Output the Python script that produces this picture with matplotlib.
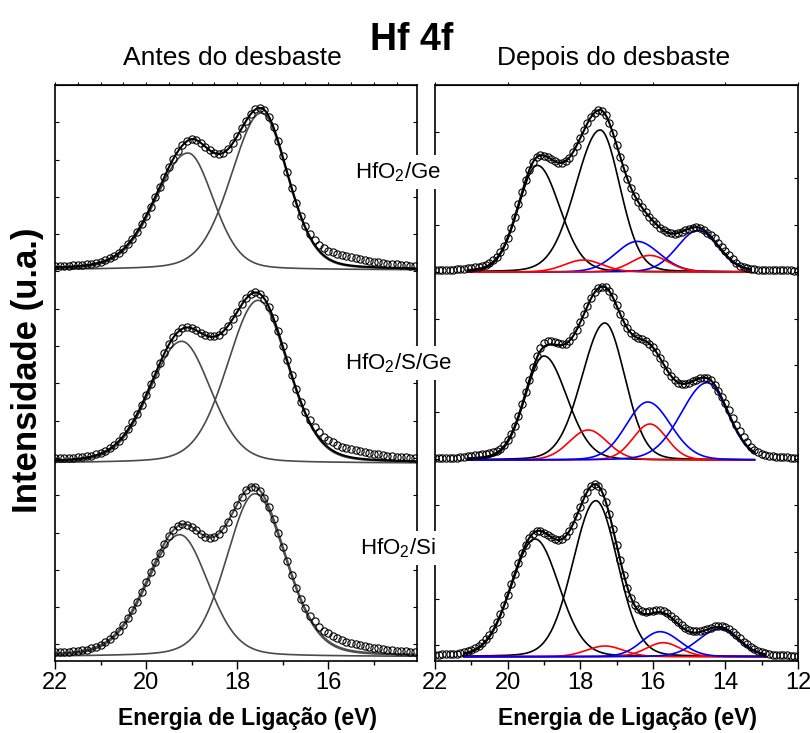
import numpy as np
import matplotlib
matplotlib.use('Agg')
import matplotlib.pyplot as plt
from matplotlib.ticker import MultipleLocator, FixedLocator, NullFormatter

plt.rcParams['font.family'] = ['Liberation Sans', 'DejaVu Sans']
plt.rcParams['mathtext.fontset'] = 'custom'
plt.rcParams['mathtext.rm'] = 'Liberation Sans'

# ---------------- data ----------------
# binding energy grid (eV), 0.1 eV step
energy_left = np.round(np.arange(22.0, 14.05, -0.1), 2)    # 80 points
energy_right = np.round(np.arange(22.0, 11.95, -0.1), 2)   # 101 points

sample_labels = ['HfO$_2$/Ge', 'HfO$_2$/S/Ge', 'HfO$_2$/Si']

# measured intensities (a.u., above each spectrum's baseline) - "Antes do desbaste"
before_Ge = [4,4,4,4,5,5,5,6,6,7,8,10,12,14,17,21,26,31,38,46,54,63,73,83,93,103,111,119,125,129,
             131,130,127,123,120,117,116,117,121,127,134,142,149,156,161,162,160,153,143,129,114,98,
             82,67,54,44,36,30,25,22,19,18,16,15,14,13,12,11,10,9,8,8,7,6,6,6,5,5,4,4]
before_SGe = [5,5,5,5,5,6,6,7,7,9,10,12,15,18,22,27,34,41,49,58,68,79,89,100,110,119,126,131,135,
              136,135,133,130,128,127,127,128,132,137,144,151,159,165,169,171,169,164,156,145,132,
              117,103,88,74,61,51,43,36,31,26,23,21,18,16,15,14,13,12,11,10,9,9,8,7,7,6,6,6,5,5]
before_Si = [5,5,5,5,6,6,7,7,9,10,12,15,18,22,26,32,39,47,55,65,75,85,95,104,113,121,127,131,133,
             132,130,127,123,120,119,120,123,128,135,144,152,160,167,170,170,166,159,150,138,124,
             110,96,82,69,58,49,41,36,30,26,24,21,19,17,15,14,13,12,11,10,9,9,8,7,7,6,6,6,5,5]

# measured intensities - "Depois do desbaste"
after_Ge = [2,2,2,2,2,2,3,3,3,4,4,5,5,6,7,9,12,15,20,26,34,44,55,68,80,92,102,110,115,117,116,115,
            113,111,109,109,111,114,120,126,134,142,149,155,159,162,161,157,149,139,127,115,104,93,
            84,76,70,65,60,55,51,48,44,42,40,39,38,39,40,42,43,44,45,44,42,39,37,34,29,25,21,17,13,
            9,6,5,4,3,3,2,2,2,2,2,2,2,2,2,2,1,1]
after_SGe = [2,2,2,2,2,2,2,3,3,4,4,5,5,6,6,7,8,9,11,15,20,26,34,44,56,68,80,93,104,112,117,119,119,
             118,117,116,116,119,124,130,138,146,154,162,168,172,173,173,169,163,155,146,138,132,127,
             124,122,121,119,116,113,108,102,96,89,84,80,77,76,76,77,79,80,82,82,82,80,75,69,63,57,
             50,42,35,29,23,18,13,10,8,6,5,4,4,3,3,3,3,2,2,2]
after_Si = [2,2,3,3,3,3,3,4,5,6,7,9,11,14,18,22,28,35,43,52,62,73,83,94,104,112,119,123,126,126,124,
            122,120,118,117,118,121,126,132,141,150,158,165,171,173,171,165,155,143,128,112,97,82,69,
            59,52,48,46,45,46,46,47,47,46,44,41,38,35,32,29,27,26,26,26,27,28,29,31,31,31,30,28,25,
            22,19,15,13,10,8,6,5,4,3,2,2,2,2,2,1,1,1]

# fitted components: (center eV, height, HWHM high-BE side, HWHM low-BE side)
before_peaks = [
    [(19.08, 117, 0.84, 0.66), (17.47, 157, 0.78, 0.68)],
    [(19.22, 122, 0.82, 0.76), (17.54, 163, 0.80, 0.77)],
    [(19.26, 122, 0.85, 0.74), (17.61, 163, 0.74, 0.80)],
]
after_black = [
    [(19.18, 106.6, 0.62, 0.73), (17.45, 142, 0.80, 0.64)],
    [(19.00, 104, 0.61, 0.75), (17.32, 137, 0.75, 0.65)],
    [(19.245, 117.7, 0.765, 0.78), (17.57, 156, 0.747, 0.71)],
]
after_red = [
    [(17.91, 12, 0.62, 0.62), (16.08, 16.6, 0.60, 0.60)],
    [(17.78, 30, 0.62, 0.62), (16.08, 36, 0.55, 0.55)],
    [(17.32, 10.7, 0.60, 0.60), (15.71, 14, 0.55, 0.55)],
]
after_blue = [
    [(16.43, 30.6, 0.70, 0.72), (14.75, 41.6, 0.68, 0.65)],
    [(16.14, 58, 0.70, 0.75), (14.50, 77.3, 0.85, 0.67)],
    [(15.80, 25, 0.60, 0.65), (14.15, 28, 0.70, 0.60)],
]
fit_range_after = [(21.1, 13.3), (21.1, 13.2), (21.2, 12.9)]

# vertical offsets of the stacked spectra
offsets_before = [391, 197.7, 4.3]
offsets_after = [389, 201, 4.3]


def peak(E, c, h, wl, wr, eta):
    w = np.where(E >= c, wl, wr)
    u = (E - c) / w
    return h * ((1 - eta) * np.exp(-np.log(2) * u ** 2) + eta / (1 + u ** 2))


fig = plt.figure(figsize=(8.1, 7.33), dpi=100)
axL = fig.add_axes([55/810, 72/733, 362/810, 576/733])
axR = fig.add_axes([435/810, 72/733, 363/810, 576/733])

mk = dict(ls='none', marker='o', mfc='none', mec='black', ms=5.2, mew=0.8, zorder=5)

# ---- left: before ----
before_data = [before_Ge, before_SGe, before_Si]
Eg = np.linspace(22, 14.05, 600)
for i in range(3):
    b = offsets_before[i]
    fit = np.zeros_like(Eg)
    for p in before_peaks[i]:
        y = peak(Eg, *p, 0.2)
        fit += y
        axL.plot(Eg, b + y, color='#4a4a4a', lw=1.2)
    axL.plot(Eg, b + fit, color='black' if i < 2 else '#505050', lw=1.5)
    axL.plot(energy_left, b + np.asarray(before_data[i]), **mk)

# ---- right: after ----
after_data = [after_Ge, after_SGe, after_Si]
for i in range(3):
    b = offsets_after[i]
    Eg2 = np.linspace(*fit_range_after[i], 500)
    fit = np.zeros_like(Eg2)
    order = [('black', after_black), ('blue', after_blue), ('red', after_red)] if i == 0 else \
            [('black', after_black), ('red', after_red), ('blue', after_blue)]
    for col, group in order:
        for p in group[i]:
            y = peak(Eg2, *p, 0.1)
            fit += y
            axR.plot(Eg2, b + y, color=col, lw=1.2)
    axR.plot(Eg2, b + fit, color='black', lw=1.5)
    axR.plot(energy_right, b + np.asarray(after_data[i]), **mk)

for ax, lim, sp in ((axL, (22, 14.05), 37.3), (axR, (22, 12), 46.7)):
    ax.set_xlim(*lim)
    ax.set_ylim(0, 576)
    ax.xaxis.set_major_locator(MultipleLocator(2))
    ax.xaxis.set_minor_locator(MultipleLocator(1))
    ax.tick_params(axis='x', which='major', direction='out', length=6, width=1.0, labelsize=17, pad=2)
    ax.tick_params(axis='x', which='minor', direction='out', length=3, width=1.0)
    ax.yaxis.set_major_locator(FixedLocator(np.arange(576, 0, -sp)))
    ax.yaxis.set_major_formatter(NullFormatter())
    ax.tick_params(axis='y', which='both', direction='in', length=3, width=0.8, left=True, right=True)
    for s in ax.spines.values():
        s.set_linewidth(1.2)
    sec = ax.secondary_xaxis('top')
    sec.xaxis.set_major_locator(MultipleLocator(0.5 if ax is axL else 2))
    sec.xaxis.set_major_formatter(NullFormatter())
    sec.tick_params(direction='out', length=2.5, width=0.8)

fig.text(412/810, 1 - 40/733, 'Hf 4f', ha='center', va='center', fontsize=27, fontweight='bold')
fig.text(232/810, 1 - 58/733, 'Antes do desbaste', ha='center', va='center', fontsize=19)
fig.text(614/810, 1 - 58/733, 'Depois do desbaste', ha='center', va='center', fontsize=19)
fig.text(248/810, 1 - 718/733, 'Energia de Ligação (eV)', ha='center', va='center', fontsize=16.5, fontweight='bold')
fig.text(628/810, 1 - 718/733, 'Energia de Ligação (eV)', ha='center', va='center', fontsize=16.5, fontweight='bold')
fig.text(28/810, 1 - 370/733, 'Intensidade (u.a.)', ha='center', va='center', rotation=90, fontsize=25, fontweight='bold')
for s, yy in zip(sample_labels, (172, 363, 548)):
    fig.text(398/810, 1 - yy/733, s, ha='center', va='center', fontsize=16,
             bbox=dict(facecolor='white', edgecolor='none', pad=4), zorder=10)

fig.savefig('out.png', dpi=100)
